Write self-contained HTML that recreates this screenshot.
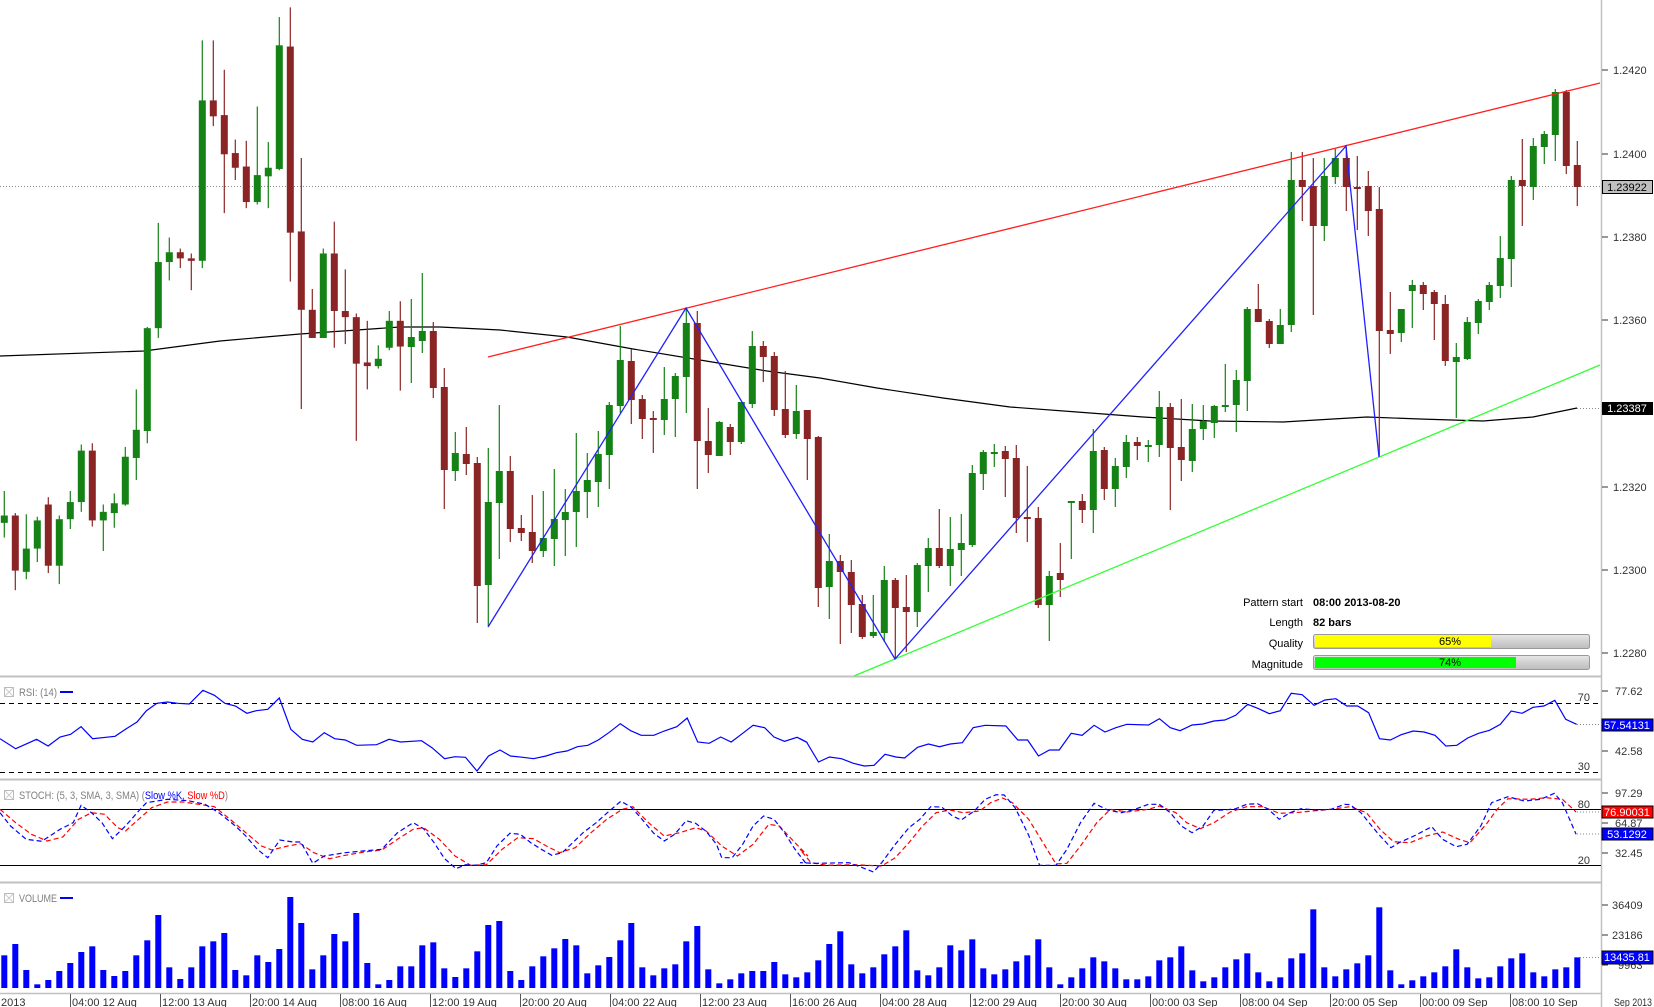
<!DOCTYPE html>
<html><head><meta charset="utf-8">
<style>
html,body{margin:0;padding:0;background:#fff;}
svg{display:block;font-family:"Liberation Sans",sans-serif;}
</style></head>
<body>
<svg id="c" width="1654" height="1007" viewBox="0 0 1654 1007" xmlns="http://www.w3.org/2000/svg">
<rect width="1654" height="1007" fill="#fff"/>
<line x1="0" y1="676.5" x2="1601" y2="676.5" stroke="#c0c0c0" stroke-width="2"/>
<line x1="0" y1="779.5" x2="1601" y2="779.5" stroke="#c0c0c0" stroke-width="2"/>
<line x1="0" y1="882.5" x2="1601" y2="882.5" stroke="#c0c0c0" stroke-width="2"/>
<line x1="0" y1="993.5" x2="1601" y2="993.5" stroke="#c0c0c0" stroke-width="1.5"/>
<line x1="1601.5" y1="0" x2="1601.5" y2="1007" stroke="#c0c0c0" stroke-width="1.5"/>
<g id="g"></g>
<g font-size="11" fill="#333" stroke="none">
<g stroke="#333"><line x1="1602" y1="70" x2="1608" y2="70"/><line x1="1602" y1="154" x2="1608" y2="154"/><line x1="1602" y1="237" x2="1608" y2="237"/><line x1="1602" y1="320" x2="1608" y2="320"/><line x1="1602" y1="487" x2="1608" y2="487"/><line x1="1602" y1="570" x2="1608" y2="570"/><line x1="1602" y1="653" x2="1608" y2="653"/>
<line x1="1602" y1="691" x2="1608" y2="691"/><line x1="1602" y1="751" x2="1608" y2="751"/><line x1="1602" y1="793" x2="1608" y2="793"/><line x1="1602" y1="823" x2="1608" y2="823"/><line x1="1602" y1="853" x2="1608" y2="853"/><line x1="1602" y1="905" x2="1608" y2="905"/><line x1="1602" y1="935" x2="1608" y2="935"/><line x1="1602" y1="965" x2="1608" y2="965"/></g>
<text x="1613" y="74">1.2420</text><text x="1613" y="158">1.2400</text><text x="1613" y="241">1.2380</text><text x="1613" y="324">1.2360</text><text x="1613" y="408">1.2340</text><text x="1613" y="491">1.2320</text><text x="1613" y="574">1.2300</text><text x="1613" y="657">1.2280</text>
<text x="1615" y="695">77.62</text><text x="1615" y="755">42.58</text>
<text x="1615" y="797">97.29</text><text x="1615" y="827">64.87</text><text x="1615" y="857">32.45</text>
<text x="1612" y="909">36409</text><text x="1612" y="939">23186</text><text x="1618" y="969">9963</text>
<text x="1590" y="701" text-anchor="end">70</text><text x="1590" y="770" text-anchor="end">30</text>
<text x="1590" y="808" text-anchor="end">80</text><text x="1590" y="864" text-anchor="end">20</text>
</g>
<rect x="1602.5" y="180.5" width="50" height="13" fill="#c0c0c0" stroke="#000"/>
<text x="1627" y="191" font-size="11" text-anchor="middle" fill="#000">1.23922</text>
<rect x="1602" y="400" width="52" height="14" fill="#fff"/>
<rect x="1602" y="402" width="51" height="13" fill="#000"/>
<text x="1627" y="412" font-size="11" text-anchor="middle" fill="#fff">1.23387</text>
<rect x="1602" y="719" width="51" height="12" fill="#0000ff" stroke="#000"/>
<text x="1627" y="729" font-size="11" text-anchor="middle" fill="#fff">57.54131</text>
<rect x="1602" y="806" width="51" height="12" fill="#ff0000" stroke="#000"/>
<text x="1627" y="816" font-size="11" text-anchor="middle" fill="#fff">76.90031</text>
<rect x="1602" y="828" width="51" height="12" fill="#0000ff" stroke="#000"/>
<text x="1627" y="838" font-size="11" text-anchor="middle" fill="#fff">53.1292</text>
<rect x="1602" y="951" width="51" height="13" fill="#0000ff" stroke="#000"/>
<text x="1627" y="961" font-size="11" text-anchor="middle" fill="#fff">13435.81</text>
<g font-size="11" fill="#808080">
<rect x="4.5" y="687.5" width="9" height="9" fill="none" stroke="#bbb"/><path d="M5 688 L13 696 M13 688 L5 696" stroke="#ccc"/>
<text x="19" y="696" textLength="38" lengthAdjust="spacingAndGlyphs">RSI: (14)</text><rect x="60" y="691" width="13" height="2" fill="#0000ff"/>
<rect x="4.5" y="790.5" width="9" height="9" fill="none" stroke="#bbb"/><path d="M5 791 L13 799 M13 791 L5 799" stroke="#ccc"/>
<text x="19" y="799" textLength="209" lengthAdjust="spacingAndGlyphs">STOCH: (5, 3, SMA, 3, SMA) (<tspan fill="#0000ff">Slow %K, </tspan><tspan fill="#ff0000">Slow %D</tspan>)</text>
<rect x="4.5" y="893.5" width="9" height="9" fill="none" stroke="#bbb"/><path d="M5 894 L13 902 M13 894 L5 902" stroke="#ccc"/>
<text x="19" y="902" textLength="38" lengthAdjust="spacingAndGlyphs">VOLUME</text><rect x="60" y="897" width="13" height="2" fill="#0000ff"/>
</g>
<g font-size="11" fill="#000">
<text x="1303" y="606" text-anchor="end">Pattern start</text><text x="1313" y="606" font-weight="bold">08:00 2013-08-20</text>
<text x="1303" y="626" text-anchor="end">Length</text><text x="1313" y="626" font-weight="bold">82 bars</text>
<text x="1303" y="647" text-anchor="end">Quality</text>
<text x="1303" y="668" text-anchor="end">Magnitude</text>
</g>
<defs><linearGradient id="gr" x1="0" y1="0" x2="0" y2="1"><stop offset="0" stop-color="#e8e8e8"/><stop offset="0.5" stop-color="#d0d0d0"/><stop offset="1" stop-color="#bdbdbd"/></linearGradient></defs>
<rect x="1313.5" y="634.5" width="276" height="14" rx="2" fill="url(#gr)" stroke="#999"/>
<rect x="1315" y="636" width="176" height="11" fill="#ffff00"/>
<text x="1450" y="645" font-size="11" text-anchor="middle">65%</text>
<rect x="1313.5" y="655.5" width="276" height="14" rx="2" fill="url(#gr)" stroke="#999"/>
<rect x="1315" y="657" width="201" height="11" fill="#00ff00"/>
<text x="1450" y="666" font-size="11" text-anchor="middle">74%</text>
<g id="tx" font-size="11" fill="#333"></g>
</svg>
<script>
(function(){
var NS="http://www.w3.org/2000/svg",g=document.getElementById('g');
function el(n,a){var e=document.createElementNS(NS,n);for(var k in a)e.setAttribute(k,a[k]);g.appendChild(e);return e;}
function X(i){return 4.3+11*i;}
var A=[[427,421,401,439],[421,466,419,482],[467,448,420,473],[448,425,422,459],[412,462,406,468],[462,424,421,477],[424,410,401,432],[410,368,363,418],[368,425,362,430],[425,418,412,450],[419,411,403,431],[412,373,365,413],[374,351,318,392],[352,268,267,362],[268,214,182,276],[214,206,194,229],[206,211,203,219],[211,213,207,237],[213,82,33,219],[82,95,33,103],[94,126,57,174],[125,137,114,147],[136,165,115,170],[165,143,87,167],[144,137,116,170],[138,37,14,139],[38,190,6,230],[189,253,129,334],[253,276,236,276],[276,207,203,276],[207,254,181,284],[254,259,220,281],[259,297,256,360],[296,299,262,318],[299,293,282,301],[284,262,254,286],[262,283,246,319]];
var C=[];for(var i=0;i<A.length;i++)C.push(A[i].map(function(v){return v*1.2245;}));
var B=[[347,337,299,383],[341,331,273,353],[331,388,322,398],[387,470,368,509],[471,453,432,481],[454,464,427,475],[463,586,457,623],[585,502,448,626],[503,471,405,559],[471,529,456,542],[528,533,515,541],[532,551,495,563],[551,538,491,557],[539,519,469,566],[520,512,489,556],[512,491,433,547],[492,480,453,518],[482,454,431,507],[455,405,402,489],[406,360,326,413],[361,400,349,424],[399,419,395,439],[418,420,411,453],[420,399,367,435],[399,376,373,437],[377,323,308,413],[323,441,311,489],[441,455,408,473],[456,422,421,456],[427,442,424,455],[442,402,402,444],[404,346,331,408],[346,357,341,382],[356,410,352,416],[409,435,371,438],[434,411,385,439],[410,439,410,480],[437,588,436,607],[587,561,534,619],[561,572,555,644],[572,605,560,633],[604,637,595,639],[636,632,595,638],[633,580,566,642],[580,608,578,659],[607,612,575,652],[612,565,563,627],[566,548,538,592],[548,566,509,568],[566,549,517,586],[550,543,514,576],[545,473,465,547],[474,452,450,490],[454,452,444,467],[451,459,446,497],[458,518,445,533],[517,519,466,542],[518,605,507,608],[605,576,571,641],[573,580,543,597],[503,501,501,559],[501,510,494,523],[510,451,429,533],[450,489,447,500],[489,466,458,507],[467,442,435,478],[442,446,437,460],[446,445,440,462],[445,407,391,457],[407,448,403,510],[447,460,399,481],[461,429,404,472],[429,421,405,440],[423,406,405,438],[407,405,364,412],[405,380,370,432],[381,309,307,411],[309,322,284,322],[321,344,319,348],[344,325,309,344],[325,180,152,332],[180,187,152,221],[186,226,158,315],[226,176,158,241],[177,158,149,184],[158,187,147,211],[187,189,156,230],[186,211,171,236],[209,331,187,457],[330,334,292,354],[333,309,309,342],[291,285,280,328],[285,294,282,310],[292,304,290,340],[304,361,295,366],[362,357,343,418],[359,322,317,360],[323,301,299,334],[302,285,282,310],[286,258,236,298],[259,180,176,287],[180,186,139,226],[187,146,138,200],[147,134,131,164],[135,92,89,161],[92,166,90,174],[165,187,141,206]];
C=C.concat(B);
el('line',{x1:0,y1:186.5,x2:1601,y2:186.5,stroke:'#888','stroke-dasharray':'1,2','stroke-width':1});
var sma=[[0,356],[144,351],[220,341],[300,334],[400,327],[440,327],[500,330],[567,337],[633,349],[700,360],[767,371],[820,378],[877,388],[943,398],[1010,407],[1077,412],[1143,417],[1210,421],[1283,422],[1333,419],[1367,417],[1420,419],[1483,421],[1533,417],[1577,408]];
el('polyline',{points:sma.join(' '),fill:'none',stroke:'#000','stroke-width':1.2});
el('line',{x1:1577,y1:408.5,x2:1601,y2:408.5,stroke:'#888','stroke-dasharray':'1,2'});
for(var i=0;i<C.length;i++){var c=C[i],x=X(i),o=c[0],cl=c[1],h=c[2],l=c[3];
 var col=cl<=o?'#148214':'#8b2424';
 el('line',{x1:x,y1:h,x2:x,y2:l,stroke:col,'stroke-width':1.2});
 var t=Math.min(o,cl),bh=Math.max(Math.abs(o-cl),2);
 el('rect',{x:x-3.5,y:t,width:7,height:bh,fill:col});}
el('line',{x1:488,y1:357,x2:1600,y2:83,stroke:'#ff2020','stroke-width':1.3});
el('line',{x1:854,y1:676,x2:1600,y2:365,stroke:'#33ff33','stroke-width':1.3});
el('polyline',{points:'488,627 686,308 895,659 1346,146 1379,457',fill:'none',stroke:'#2020ff','stroke-width':1.3});
el('line',{x1:0,y1:703.5,x2:1601,y2:703.5,stroke:'#000','stroke-dasharray':'5,4'});
el('line',{x1:0,y1:772.5,x2:1601,y2:772.5,stroke:'#000','stroke-dasharray':'5,4'});
el('line',{x1:0,y1:809.5,x2:1601,y2:809.5,stroke:'#000'});
el('line',{x1:0,y1:865.5,x2:1601,y2:865.5,stroke:'#000'});
function cv(arr,x0,fx){return arr.map(function(p){return (x0+p[0]*fx).toFixed(1)+','+(676+p[1]/3).toFixed(1);}).join(' ');}
var r1=[[0,188],[30,218],[70,190],[92,210],[115,183],[135,175],[155,152],[177,188],[220,181],[240,160],[262,138],[280,104],[300,82],[320,78],[340,82],[362,84],[388,43],[410,58],[430,82],[450,90],[472,112],[490,104],[512,100],[534,66],[556,160],[578,190],[598,198],[620,170],[640,188],[660,192],[682,208],[720,206],[744,190],[766,198],[806,194],[826,215],[850,248],[870,242],[890,244],[912,285],[934,240],[956,222],[976,240],[1000,244],[1020,248],[1044,240],[1064,230],[1084,225],[1104,212],[1124,208],[1144,192],[1164,170],[1186,143],[1206,164],[1226,178],[1250,178],[1270,165],[1294,152],[1314,126],[1334,198],[1356,202],[1378,183],[1398,198],[1420,172],[1440,148],[1462,155],[1480,183],[1500,196],[1524,184],[1544,200]];
var r2=[[0,188],[12,198],[34,258],[54,243],[76,248],[98,262],[118,270],[136,268],[156,235],[176,243],[192,246],[216,214],[236,204],[256,212],[276,204],[298,200],[318,155],[340,148],[378,150],[400,192],[418,192],[438,240],[458,222],[476,222],[498,172],[518,178],[540,148],[560,168],[580,155],[600,145],[640,147],[660,128],[680,155],[698,164],[720,147],[740,144],[760,135],[780,132],[800,118],[822,85],[842,98],[862,113],[882,104],[902,52],[922,56],[944,88],[964,72],[984,68],[1004,90],[1024,90],[1044,110],[1064,188],[1084,192],[1104,176],[1126,165],[1146,168],[1166,178],[1186,210],[1206,208],[1226,186],[1246,172],[1266,163],[1286,145],[1306,105],[1326,112],[1346,94],[1366,90],[1386,73],[1406,130],[1426,145]];
el('polyline',{points:cv(r1,0,0.523)+' '+cv(r2,800,0.5446),fill:'none',stroke:'#0000ff','stroke-width':1.2});
el('line',{x1:1577,y1:724.5,x2:1601,y2:724.5,stroke:'#888','stroke-dasharray':'1,2'});
var kb1=[[0,410],[20,450],[50,490],[80,496],[115,460],[140,440],[155,388],[175,410],[195,440],[215,488],[240,450],[265,405],[280,380],[320,370],[360,374],[392,385],[420,412],[450,450],[470,480],[492,520],[512,545],[535,492],[560,498],[575,498],[598,562],[620,540],[660,530],[700,524],[730,520],[760,470],[790,440],[810,458],[830,500],[850,548],[872,578],[890,566],[910,568],[930,560],[950,510],[975,472],[995,475],[1015,500],[1035,520],[1055,538],[1075,530],[1095,500],[1115,470],[1140,440],[1165,405],[1187,376],[1206,392],[1225,425],[1250,472],[1270,495],[1290,475],[1312,434],[1330,442],[1350,466],[1370,505],[1380,545],[1400,545],[1420,505],[1440,450],[1460,420],[1480,430],[1500,470],[1520,520],[1540,560]];
var kd1=[[0,400],[30,440],[60,475],[90,495],[120,483],[150,430],[175,410],[200,415],[225,455],[240,465],[265,430],[290,395],[320,378],[350,378],[380,385],[410,392],[440,430],[470,470],[500,510],[520,522],[550,510],[575,503],[600,530],[630,548],[660,538],[700,527],[730,522],[760,490],[790,460],[810,455],[840,490],[870,540],[900,568],[930,566],[960,520],[990,485],[1020,488],[1045,510],[1070,530],[1100,515],[1130,470],[1160,430],[1190,400],[1210,392],[1240,440],[1270,480],[1300,470],[1330,455],[1350,465],[1380,510],[1410,540],[1440,505],[1470,445],[1490,450],[1520,500],[1545,540]];
var kb2=[[0,560],[30,562],[90,560],[110,572],[135,588],[150,560],[175,505],[200,455],[220,430],[240,392],[260,393],[280,420],[296,432],[320,405],[340,370],[360,356],[375,357],[395,395],[420,478],[440,568],[470,568],[490,520],[515,440],[540,382],[565,402],[590,410],[615,400],[640,385],[660,385],[680,410],[700,450],[720,470],[740,450],[760,403],[780,402],[800,398],[820,385],[840,383],[860,400],[880,430],[900,410],[920,398],[950,402],[975,400],[1000,385],[1010,386],[1030,410],[1060,470],[1085,515],[1100,500],[1130,478],[1160,452],[1180,490],[1205,512],[1225,505],[1250,450],[1270,380],[1300,362],[1330,375],[1360,370],[1385,352],[1400,380],[1425,475]];
var kd2=[[0,520],[20,560],[50,568],[100,566],[150,570],[175,545],[200,500],[225,450],[250,410],[275,402],[300,410],[330,405],[350,380],[372,366],[390,380],[420,430],[450,510],[470,564],[490,562],[515,510],[545,440],[570,400],[600,408],[640,400],[660,390],[690,410],[710,440],[735,458],[760,440],[790,408],[820,392],[850,392],[880,412],[910,410],[940,405],[975,400],[1010,392],[1040,410],[1065,460],[1090,497],[1120,500],[1150,480],[1180,468],[1210,490],[1230,500],[1260,445],[1280,400],[1300,368],[1340,370],[1370,365],[1400,370],[1425,408]];
el('polyline',{points:cv(kd1,0,0.523)+' '+cv(kd2,800,0.5446),fill:'none',stroke:'#ff0000','stroke-width':1.2,'stroke-dasharray':'5,3'});
el('polyline',{points:cv(kb1,0,0.523)+' '+cv(kb2,800,0.5446),fill:'none',stroke:'#0000ff','stroke-width':1.2,'stroke-dasharray':'5,3'});
el('line',{x1:1577,y1:812,x2:1601,y2:812,stroke:'#888','stroke-dasharray':'1,2'});
el('line',{x1:1577,y1:834,x2:1601,y2:834,stroke:'#888','stroke-dasharray':'1,2'});
var V=[225,191,269,312,299,272,248,215,198,269,287,272,225,180,104,261,296,261,198,183,158,269,285,225,245,206,50,128,267,225,161,183,98,248,312,299,258,258,195,186,264,290,264,213,134,122,272,299,258,228,204,176,195,279,255,230,180,128,261,285,264,252,183,137,267,309,297,279,272,272,245,282,291,276,240,191,
153,252,279,261,222,198,150,270,285,261,195,210,177,264,282,267,243,225,177,261,312,291,264,231,243,264,297,297,288,240,231,198,270,303,291,261,237,219,276,303,291,234,219,87,261,288,267,249,225,81,270,312,300,288,276,258,207,261,294,291,258,234,219,276,288,267,261,231];
for(var i=0;i<V.length&&i<144;i++){var h=(323-V[i])/3;el('rect',{x:X(i)-3,y:988-h,width:6,height:h,fill:'#0000ff'});}
el('line',{x1:1577,y1:957.5,x2:1601,y2:957.5,stroke:'#888','stroke-dasharray':'1,2'});
var tx=document.getElementById('tx');
var L=['04:00 12 Aug','12:00 13 Aug','20:00 14 Aug','08:00 16 Aug','12:00 19 Aug','20:00 20 Aug','04:00 22 Aug','12:00 23 Aug','16:00 26 Aug','04:00 28 Aug','12:00 29 Aug','20:00 30 Aug','00:00 03 Sep','08:00 04 Sep','20:00 05 Sep','00:00 09 Sep','08:00 10 Sep'];
function add(n,a,t){var e=document.createElementNS(NS,n);for(var k in a)e.setAttribute(k,a[k]);if(t)e.textContent=t;tx.appendChild(e);}
add('text',{x:1,y:1006},'2013');
for(var k=0;k<L.length;k++){var x=70+90*k;add('line',{x1:x+0.5,y1:994,x2:x+0.5,y2:1007,stroke:'#555'});add('text',{x:x+2,y:1006},L[k]);}
add('text',{x:1614,y:1006,textLength:38,lengthAdjust:'spacingAndGlyphs'},'Sep 2013');
})();
</script>
</body></html>
